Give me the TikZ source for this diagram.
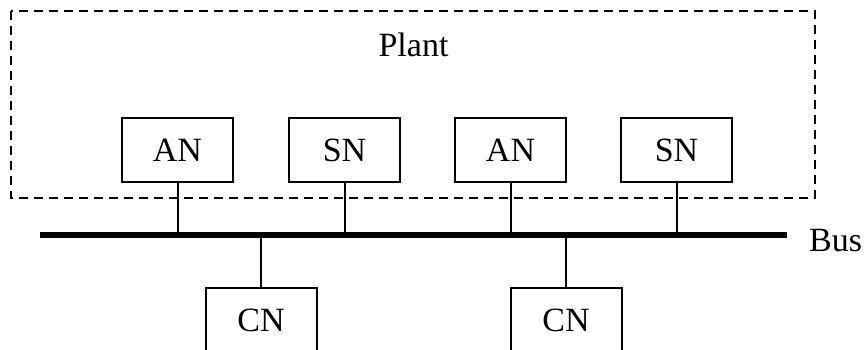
\documentclass[tikz,border=0pt]{standalone}
\usepackage{fontspec}
\setmainfont{Liberation Serif}
\begin{document}
\begin{tikzpicture}[x=1pt,y=-1pt,
  nodebox/.style={draw,line width=2pt,minimum width=111pt,minimum height=64pt,inner sep=0pt,
    font=\fontsize{34}{40}\selectfont,text height=22.5pt,text depth=0pt},
  lbl/.style={font=\fontsize{34}{40}\selectfont,inner sep=0pt},
  link/.style={line width=2pt},
  busline/.style={line width=6.5pt},
  plantbox/.style={draw,line width=2pt,dash pattern=on 9pt off 6pt}]
\useasboundingbox (0,0) rectangle (867,350);
\draw[plantbox] (11,11) rectangle (815,198);
\node[lbl,anchor=base] (plant) at (413.5,57) {Plant};
\node[nodebox] (an1) at (177.5,150) {AN};
\node[nodebox] (sn1) at (344.5,150) {SN};
\node[nodebox] (an2) at (510.5,150) {AN};
\node[nodebox] (sn2) at (676.5,150) {SN};
\node[nodebox] (cn1) at (261,320) {CN};
\node[nodebox] (cn2) at (566,320) {CN};
\coordinate (busL) at (40,235);
\coordinate (busR) at (787,235);
\draw[busline] (busL) -- (busR);
\node[lbl,anchor=base west] (bus) at (809,251) {Bus};
\foreach \n in {an1,sn1,an2,sn2}{
  \draw[link] (\n.south) -- (\n.south |- busL);
}
\foreach \n in {cn1,cn2}{
  \draw[link] (\n.north |- busL) -- (\n.north);
}
\end{tikzpicture}
\end{document}
